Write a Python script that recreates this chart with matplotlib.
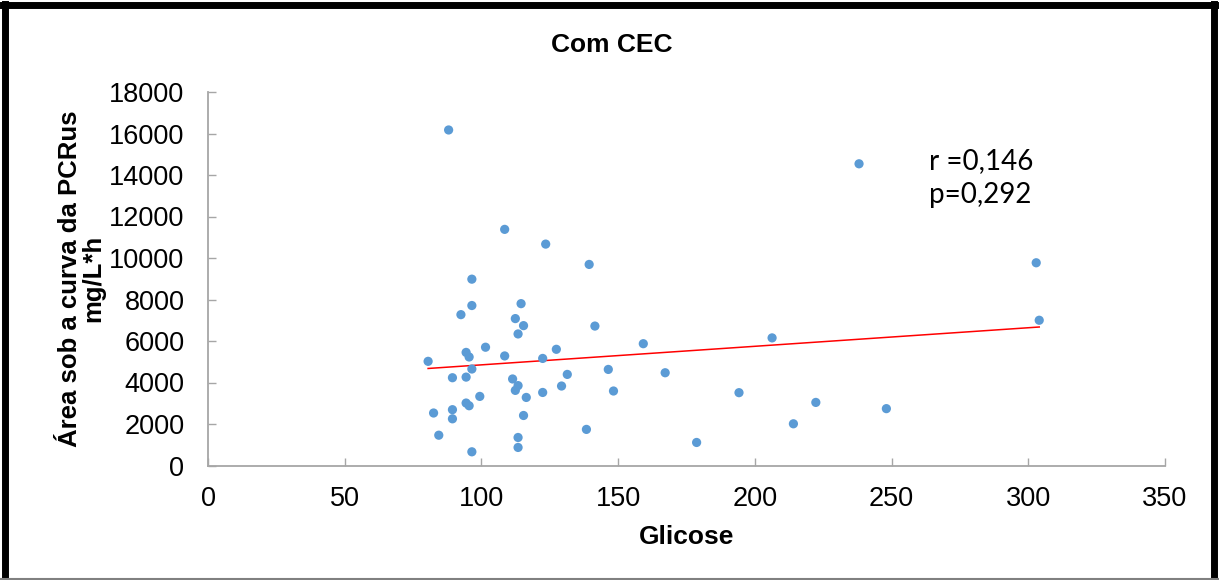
import numpy as np
import matplotlib
matplotlib.use("Agg")
import matplotlib.pyplot as plt
from matplotlib.lines import Line2D

# Glicose x área sob a curva da PCRus (grupo com CEC)
glicose = [88, 108.5, 123.5, 139.4, 96.5, 96.5, 114.5, 92.5, 112.4, 115.4,
           113.4, 141.5, 159.2, 101.5, 94.4, 95.5, 80.5, 108.5, 122.4, 127.4,
           96.5, 146.4, 167.2, 131.4, 89.4, 94.4, 111.4, 113.4, 112.4, 129.3,
           122.4, 148.3, 99.4, 116.4, 94.4, 95.5, 82.5, 89.4, 89.4, 115.4,
           84.4, 138.4, 113.4, 113.4, 96.5, 178.7, 238.1, 302.9, 304, 206.3,
           194.2, 214.1, 222.3, 248.1]
auc_pcr = [16170, 11380, 10670, 9690, 8980, 7710, 7800, 7270, 7080, 6740,
           6340, 6720, 5870, 5700, 5450, 5230, 5020, 5280, 5160, 5600,
           4650, 4630, 4470, 4390, 4230, 4260, 4170, 3850, 3620, 3830,
           3520, 3590, 3330, 3280, 3010, 2880, 2530, 2690, 2250, 2410,
           1460, 1740, 1350, 870, 660, 1110, 14540, 9770, 7000, 6150,
           3510, 2010, 3040, 2740]
r_txt = "r =0,146"
p_txt = "p=0,292"

plt.rcParams['font.family'] = ['Liberation Sans', 'DejaVu Sans']

fig = plt.figure(figsize=(12.19, 5.8), dpi=100)
W, H = 1219, 580
ax = fig.add_axes([208 / W, 1 - 465.5 / H, (1165 - 208) / W, (465.5 - 92) / H])

x = np.array(glicose)
y = np.array(auc_pcr)
ax.scatter(x, y, s=44, color='#5b9bd5', edgecolors='none', zorder=3)

# linha de tendência (mínimos quadrados)
a, b = np.polyfit(x, y, 1)
xs = np.array([x.min(), x.max()])
ax.plot(xs, a * xs + b, color='#ff0000', lw=1.1, zorder=2)

ax.set_xlim(0, 350)
ax.set_ylim(0, 18000)
ax.set_xticks(np.arange(0, 351, 50))
ax.set_yticks(np.arange(0, 18001, 2000))
for s in ['top', 'right']:
    ax.spines[s].set_visible(False)
for s in ['left', 'bottom']:
    ax.spines[s].set_color('#a6a6a6')
    ax.spines[s].set_linewidth(1.3)
ax.tick_params(direction='in', length=6, width=1, color='#a6a6a6',
               labelsize=19.5)
ax.tick_params(axis='y', pad=17)
ax.tick_params(axis='x', pad=15)

ax.set_xlabel('Glicose', fontsize=19, fontweight='bold', va='center')
ax.xaxis.set_label_coords(0.5005, -0.191)
ax.set_ylabel('Área sob a curva da PCRus\nmg/L*h', fontsize=18.5,
              fontweight='bold', va='center', linespacing=1.0)
ax.yaxis.set_label_coords(-0.132, 0.5)
fig.text(612 / W, 1 - 45 / H, 'Com CEC', fontsize=19, fontweight='bold',
         ha='center', va='center')

ax.text(0.753, 0.77, r_txt + "\n" + p_txt, transform=ax.transAxes,
        fontsize=20, family=['Lato', 'DejaVu Sans'], va='center',
        linespacing=1.35)

# moldura externa
fig.add_artist(Line2D([5 / W, 5 / W], [0, 1 - 4 / H], color='black', lw=5))
fig.add_artist(Line2D([3 / W, 1215 / W], [1 - 5 / H, 1 - 5 / H], color='black', lw=5))
fig.add_artist(Line2D([1214 / W, 1214 / W], [0, 1 - 4 / H], color='black', lw=5))
fig.add_artist(Line2D([0, 1], [1.5 / H, 1.5 / H], color='#808080', lw=1.5))

fig.savefig('out.png', dpi=100)
